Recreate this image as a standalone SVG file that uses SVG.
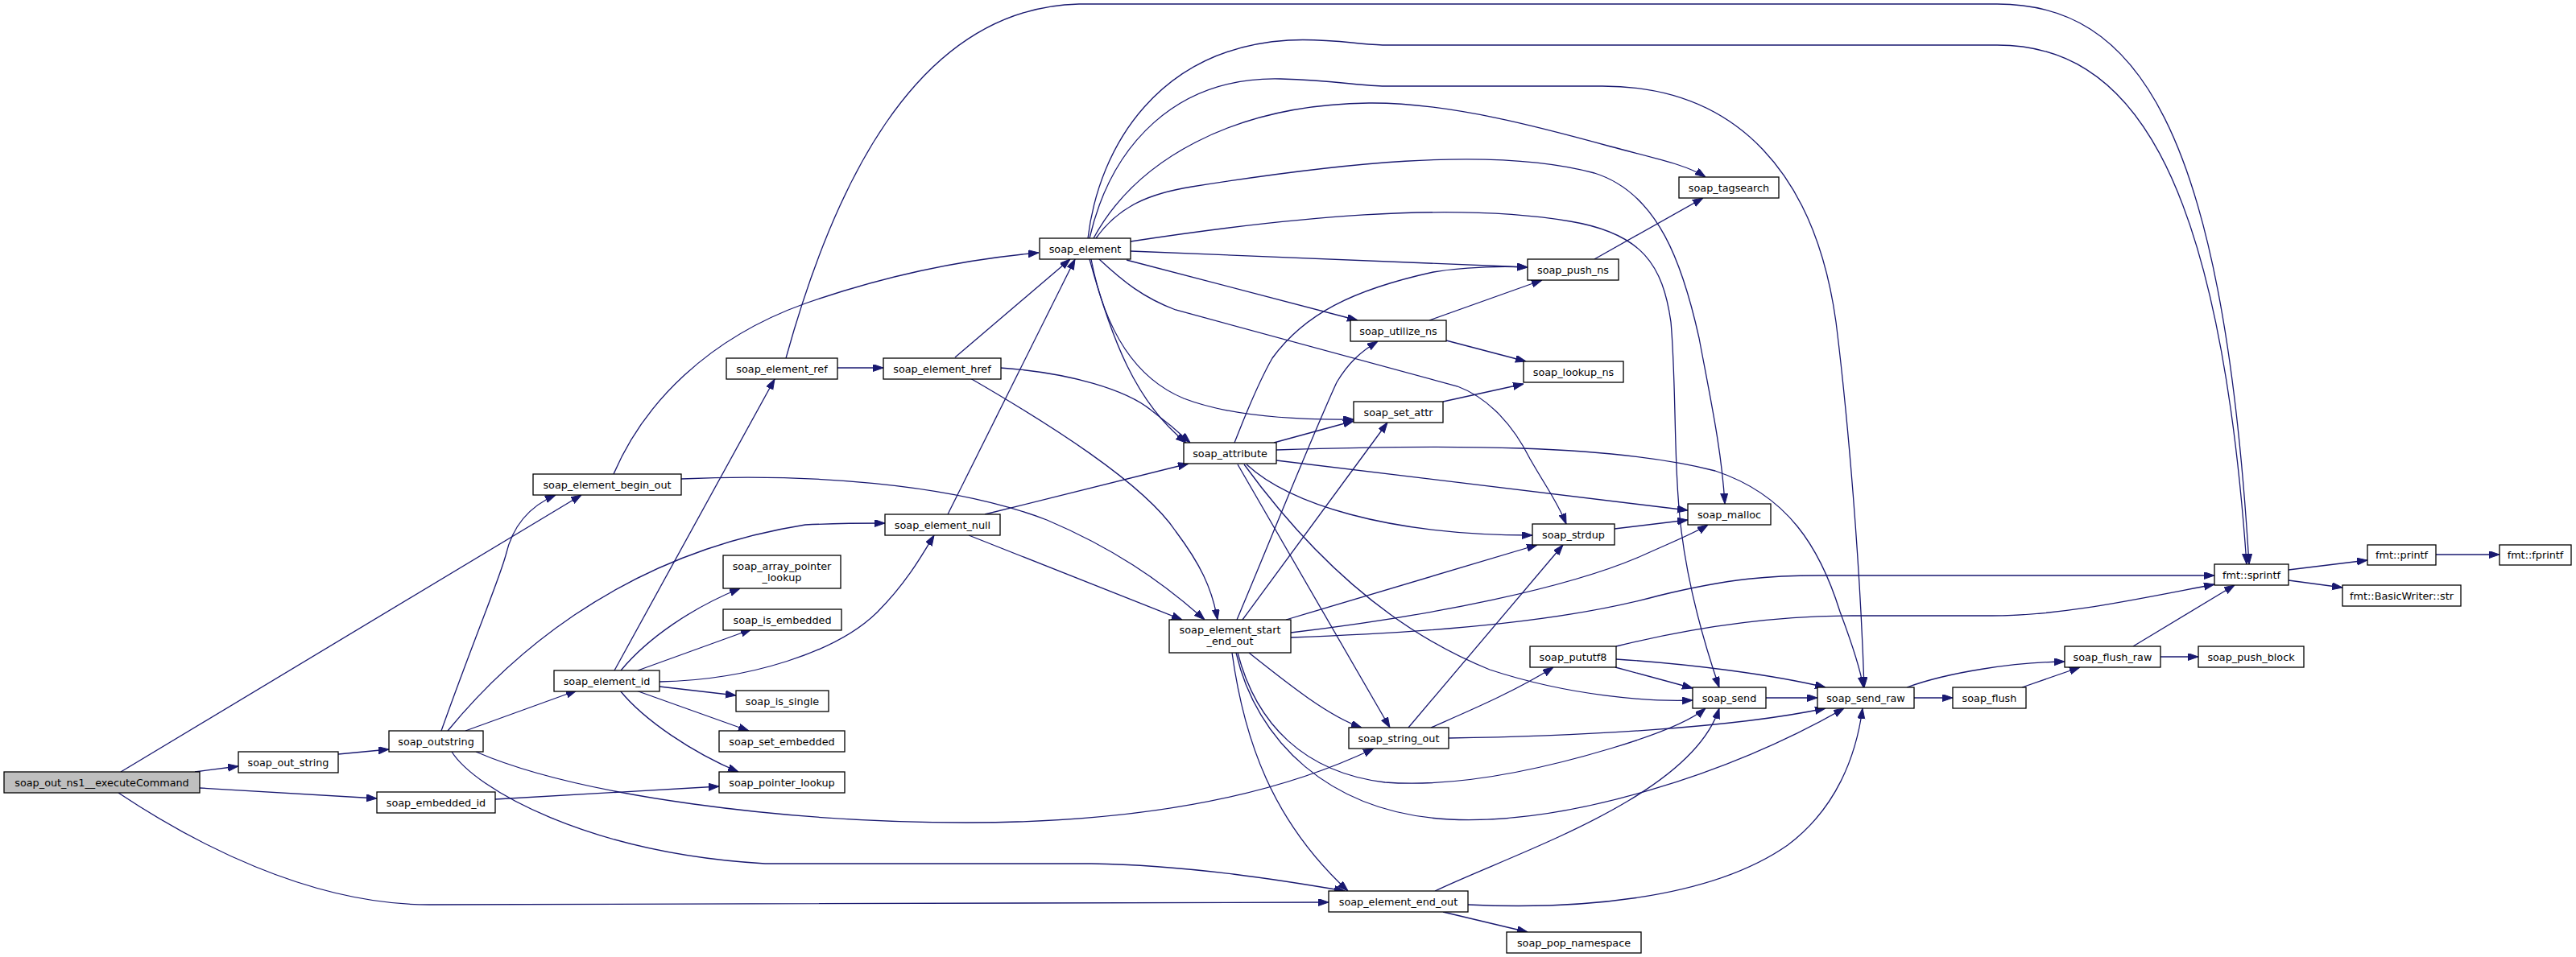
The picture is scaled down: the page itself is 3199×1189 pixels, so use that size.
<svg xmlns="http://www.w3.org/2000/svg" width="3199" height="1189" viewBox="0 0 3199 1189">
<style>
.n rect{fill:#fff;stroke:#000;stroke-width:1.3}
.n text{font-family:"DejaVu Sans",sans-serif;font-size:12.8px;text-anchor:middle;fill:#000}
.r rect{fill:#bfbfbf}
#edges path{fill:none;stroke:#191970;stroke-width:1.3;marker-end:url(#a)}
</style>
<defs>
<marker id="a" markerUnits="userSpaceOnUse" markerWidth="13" markerHeight="10" refX="13" refY="4.5" orient="auto"><path d="M0,0 L13,4.5 L0,9 Z" fill="#191970" stroke="#191970" stroke-width="1"/></marker>
</defs>
<rect width="3199" height="1189" fill="#fff"/>
<g id="edges">
<path d="M150,959 L722,615"/>
<path d="M242,959 L296,952"/>
<path d="M248,979 L468,992"/>
<path d="M147,985 C237,1045 383,1124 533,1124 L1650,1121"/>
<path d="M420,937 L483,931"/>
<path d="M548,908 C590,790 620,720 628,690 C636,655 655,630 690,615"/>
<path d="M556,908 C620,830 760,690 1000,652 C1040,650 1070,650 1099,650"/>
<path d="M578,908 L716,858"/>
<path d="M591,934 C720,990 980,1022 1200,1022 C1380,1022 1560,1000 1706,930"/>
<path d="M561,934 C590,980 730,1060 950,1073 L1355,1073 C1480,1075 1600,1095 1670,1107"/>
<path d="M762,589 C800,500 880,420 1000,377 C1100,342 1200,322 1290,314"/>
<path d="M846,595 C1000,588 1180,600 1300,646 C1380,680 1440,720 1496,770"/>
<path d="M1040,457 L1097,457"/>
<path d="M976,445 C1030,250 1130,10 1340,5 L2480,5 C2650,5 2760,150 2793,701"/>
<path d="M763,833 L962,471"/>
<path d="M771,833 C805,792 860,755 919,731"/>
<path d="M792,833 L933,782"/>
<path d="M819,847 C930,845 1040,810 1090,760 C1125,725 1145,690 1160,665"/>
<path d="M819,853 L914,864"/>
<path d="M790,858 L930,908"/>
<path d="M770,858 C800,895 860,935 917,959"/>
<path d="M615,993 L893,977"/>
<path d="M1177,639 L1335,322"/>
<path d="M1223,639 L1476,576"/>
<path d="M1203,665 L1468,770"/>
<path d="M1186,444 L1329,322"/>
<path d="M1242,457 C1330,463 1400,485 1430,510 C1450,525 1465,538 1478,550"/>
<path d="M1205,470 C1300,525 1420,600 1460,660 C1490,700 1505,730 1512,770"/>
<path d="M1351,296 C1365,180 1440,60 1600,50 C1650,47 1690,56 1720,56 L2480,56 C2640,56 2755,200 2790,701"/>
<path d="M1353,296 C1380,180 1460,95 1590,98 C1660,100 1690,107 1720,107 L1990,107 C2160,107 2255,220 2280,400 C2295,520 2310,700 2315,854"/>
<path d="M1358,296 C1410,200 1530,130 1700,128 C1800,127 1920,160 2000,182 C2060,198 2095,205 2118,220"/>
<path d="M1361,296 C1390,255 1430,240 1480,232 C1650,205 1850,180 1980,215 C2060,240 2090,330 2110,420 C2125,500 2138,560 2142,626"/>
<path d="M1404,300 C1600,270 1800,250 1950,275 C2040,290 2065,330 2075,400 C2082,480 2078,580 2088,660 C2098,740 2120,810 2135,854"/>
<path d="M1404,312 L1897,332"/>
<path d="M1399,323 L1686,398"/>
<path d="M1355,322 C1372,410 1410,470 1470,495 C1530,518 1610,522 1681,521"/>
<path d="M1353,322 C1380,420 1410,500 1473,550"/>
<path d="M1365,322 C1395,350 1420,370 1460,385 L1810,480 C1850,495 1880,530 1900,570 C1920,605 1935,625 1945,651"/>
<path d="M1533,550 C1545,520 1560,480 1580,445 C1620,390 1680,360 1780,338 C1830,330 1870,331 1897,332"/>
<path d="M1582,550 L1681,523"/>
<path d="M1585,559 C1800,552 2000,552 2130,585 C2220,615 2260,680 2285,760 C2300,800 2310,830 2314,854"/>
<path d="M1585,572 L2096,634"/>
<path d="M1548,577 C1600,625 1720,665 1903,665"/>
<path d="M1537,577 L1726,904"/>
<path d="M1545,577 C1620,680 1720,780 1850,832 C1950,865 2050,872 2102,870"/>
<path d="M1536,770 C1570,690 1630,540 1660,475 C1675,450 1690,437 1711,424"/>
<path d="M1543,770 L1723,525"/>
<path d="M1597,770 L1909,677"/>
<path d="M1603,786 C1780,765 1950,730 2040,690 C2080,672 2105,662 2121,652"/>
<path d="M1603,792 C1800,785 1950,770 2060,740 C2150,718 2200,715 2260,715 L2750,715"/>
<path d="M1551,811 C1600,850 1650,890 1691,904"/>
<path d="M1537,811 C1560,900 1620,960 1720,972 C1800,978 1900,960 2000,930 C2060,912 2100,895 2118,880"/>
<path d="M1535,811 C1560,920 1650,1010 1800,1018 C1950,1025 2150,960 2290,880"/>
<path d="M1530,811 C1545,920 1580,1020 1674,1107"/>
<path d="M1782,1107 C1880,1060 2100,990 2135,880"/>
<path d="M1823,1124 C1950,1130 2120,1120 2220,1050 C2280,1005 2305,940 2313,880"/>
<path d="M1792,1133 L1897,1158"/>
<path d="M1749,904 L1941,677"/>
<path d="M1777,904 C1820,885 1880,860 1929,829"/>
<path d="M1799,917 C1950,915 2150,905 2267,880"/>
<path d="M2007,803 C2100,780 2200,765 2300,765 L2474,765 C2560,765 2650,745 2750,726"/>
<path d="M2006,829 L2102,855"/>
<path d="M2007,819 C2100,825 2200,838 2267,854"/>
<path d="M2193,867 L2257,867"/>
<path d="M2377,867 L2425,867"/>
<path d="M2368,854 C2420,835 2500,823 2564,822"/>
<path d="M2511,854 L2583,829"/>
<path d="M2649,803 L2775,727"/>
<path d="M2683,816 L2730,816"/>
<path d="M2005,657 L2096,646"/>
<path d="M2842,708 L2940,696"/>
<path d="M2842,721 L2909,730"/>
<path d="M3025,689 L3104,689"/>
<path d="M1980,322 L2115,246"/>
<path d="M1775,398 L1915,348"/>
<path d="M1796,423 L1895,449"/>
<path d="M1792,499 L1892,477"/>
</g>
<g id="n_E" class="n r"><rect x="5" y="959" width="243" height="26"/><text x="126.5" y="976.5">soap_out_ns1__executeCommand</text></g>
<g id="n_OS" class="n"><rect x="296" y="934" width="124" height="26"/><text x="358" y="951.5">soap_out_string</text></g>
<g id="n_OST" class="n"><rect x="483" y="908" width="117" height="26"/><text x="541.5" y="925.5">soap_outstring</text></g>
<g id="n_EMB" class="n"><rect x="468" y="984" width="147" height="26"/><text x="541.5" y="1001.5">soap_embedded_id</text></g>
<g id="n_BO" class="n"><rect x="662" y="589" width="184" height="26"/><text x="754" y="606.5">soap_element_begin_out</text></g>
<g id="n_EI" class="n"><rect x="688" y="833" width="131" height="26"/><text x="753.5" y="850.5">soap_element_id</text></g>
<g id="n_ER" class="n"><rect x="902" y="445" width="138" height="26"/><text x="971" y="462.5">soap_element_ref</text></g>
<g id="n_APL" class="n"><rect x="898" y="690" width="146" height="41"/><text x="971" y="707.5">soap_array_pointer</text><text x="971" y="721.5">_lookup</text></g>
<g id="n_IE" class="n"><rect x="898" y="757" width="147" height="26"/><text x="971.5" y="774.5">soap_is_embedded</text></g>
<g id="n_IS" class="n"><rect x="914" y="858" width="115" height="26"/><text x="971.5" y="875.5">soap_is_single</text></g>
<g id="n_SEM" class="n"><rect x="893" y="908" width="156" height="26"/><text x="971" y="925.5">soap_set_embedded</text></g>
<g id="n_PL" class="n"><rect x="893" y="959" width="156" height="26"/><text x="971" y="976.5">soap_pointer_lookup</text></g>
<g id="n_EN" class="n"><rect x="1099" y="639" width="143" height="26"/><text x="1170.5" y="656.5">soap_element_null</text></g>
<g id="n_EH" class="n"><rect x="1097" y="445" width="146" height="26"/><text x="1170" y="462.5">soap_element_href</text></g>
<g id="n_SE" class="n"><rect x="1291" y="296" width="113" height="26"/><text x="1347.5" y="313.5">soap_element</text></g>
<g id="n_SA" class="n"><rect x="1470" y="550" width="115" height="26"/><text x="1527.5" y="567.5">soap_attribute</text></g>
<g id="n_SEO" class="n"><rect x="1452" y="770" width="151" height="41"/><text x="1527.5" y="787">soap_element_start</text><text x="1527.5" y="801">_end_out</text></g>
<g id="n_EO" class="n"><rect x="1650" y="1107" width="173" height="26"/><text x="1736.5" y="1124.5">soap_element_end_out</text></g>
<g id="n_PN" class="n"><rect x="1871" y="1158" width="167" height="26"/><text x="1954.5" y="1175.5">soap_pop_namespace</text></g>
<g id="n_SO" class="n"><rect x="1675" y="904" width="124" height="26"/><text x="1737" y="921.5">soap_string_out</text></g>
<g id="n_UN" class="n"><rect x="1677" y="398" width="119" height="26"/><text x="1736.5" y="415.5">soap_utilize_ns</text></g>
<g id="n_SET" class="n"><rect x="1681" y="499" width="111" height="26"/><text x="1736.5" y="516.5">soap_set_attr</text></g>
<g id="n_PUSH" class="n"><rect x="1897" y="322" width="113" height="26"/><text x="1953.5" y="339.5">soap_push_ns</text></g>
<g id="n_LK" class="n"><rect x="1892" y="449" width="124" height="26"/><text x="1954" y="466.5">soap_lookup_ns</text></g>
<g id="n_TAG" class="n"><rect x="2085" y="220" width="124" height="26"/><text x="2147" y="237.5">soap_tagsearch</text></g>
<g id="n_SD" class="n"><rect x="1903" y="651" width="102" height="26"/><text x="1954" y="668.5">soap_strdup</text></g>
<g id="n_MAL" class="n"><rect x="2096" y="626" width="103" height="26"/><text x="2147.5" y="643.5">soap_malloc</text></g>
<g id="n_PU" class="n"><rect x="1900" y="803" width="107" height="26"/><text x="1953.5" y="820.5">soap_pututf8</text></g>
<g id="n_SEND" class="n"><rect x="2102" y="854" width="91" height="26"/><text x="2147.5" y="871.5">soap_send</text></g>
<g id="n_SR" class="n"><rect x="2257" y="854" width="120" height="26"/><text x="2317" y="871.5">soap_send_raw</text></g>
<g id="n_FL" class="n"><rect x="2425" y="854" width="91" height="26"/><text x="2470.5" y="871.5">soap_flush</text></g>
<g id="n_FR" class="n"><rect x="2564" y="803" width="119" height="26"/><text x="2623.5" y="820.5">soap_flush_raw</text></g>
<g id="n_PB" class="n"><rect x="2730" y="803" width="131" height="26"/><text x="2795.5" y="820.5">soap_push_block</text></g>
<g id="n_SP" class="n"><rect x="2750" y="701" width="92" height="26"/><text x="2796" y="718.5">fmt::sprintf</text></g>
<g id="n_PF" class="n"><rect x="2940" y="677" width="85" height="25"/><text x="2982.5" y="694">fmt::printf</text></g>
<g id="n_FP" class="n"><rect x="3104" y="677" width="89" height="25"/><text x="3148.5" y="694">fmt::fprintf</text></g>
<g id="n_BW" class="n"><rect x="2909" y="727" width="147" height="26"/><text x="2982.5" y="744.5">fmt::BasicWriter::str</text></g>
</svg>
